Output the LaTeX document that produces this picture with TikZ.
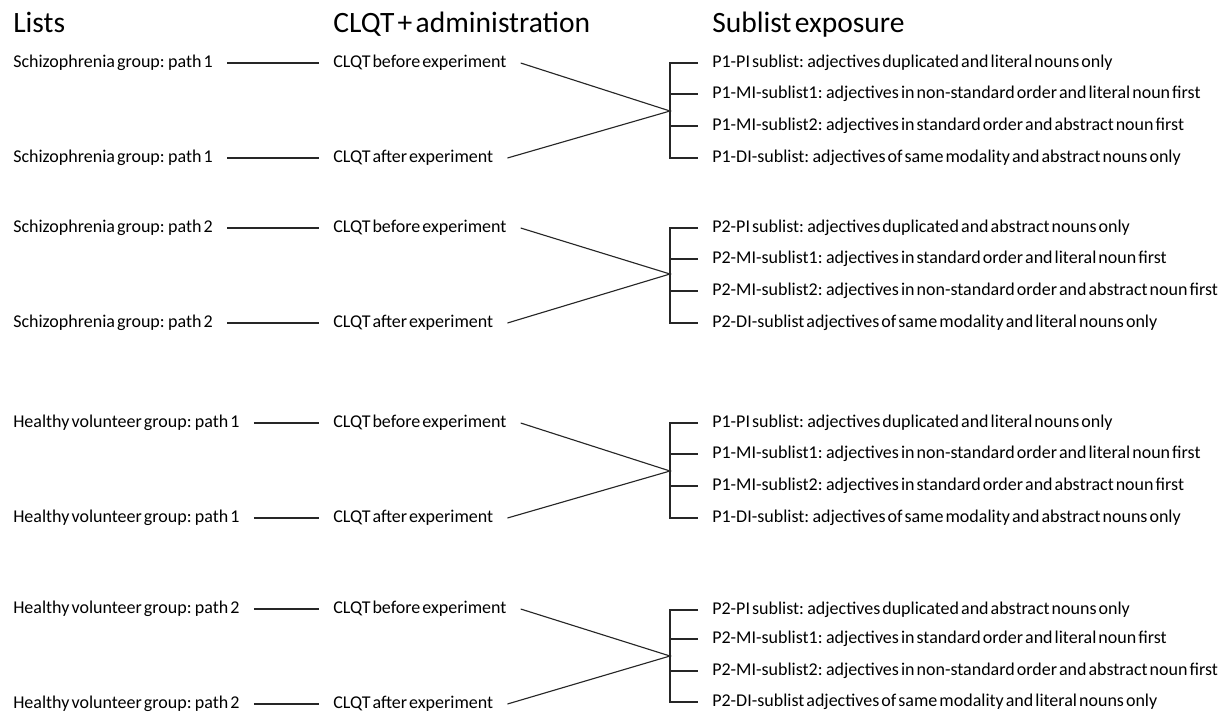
\documentclass[tikz,border=0pt]{standalone}
\usepackage{fontspec}
\setmainfont{Carlito}[WordSpace=0.5]
\usepackage{tikz}
\tikzset{
  head/.style={font=\fontsize{21}{25}\selectfont, anchor=base west, inner sep=0pt},
  item/.style={font=\fontsize{12.8}{15}\selectfont, anchor=west, inner xsep=0.35cm,
    inner ysep=0pt, text height=0.75em, text depth=0.05em},
  link/.style={line width=0.8pt, black!85},
}

\begin{document}
\begin{tikzpicture}[x=0.025cm, y=-0.025cm]
\useasboundingbox (0,0) rectangle (1226,712);
% --- Column headings ---
\node[head] (hlist) at (13,32) {Lists};
\node[head] (hclqt) at (333,32) {CLQT + administration};
\node[head] (hsub) at (712,32) {Sublist exposure};

% --- Schizophrenia group: path 1 ---
\begin{scope}[shift={(0,63)}]
  \node[item] (lst1b) at (-1,0) {Schizophrenia group: path 1};
  \node[item] (lst1a) at (-1,95) {Schizophrenia group: path 1};
  \node[item] (cq1b) at (319,0) {CLQT before experiment};
  \node[item] (cq1a) at (319,95) {CLQT after experiment};
  \node[item] (sub1a) at (698,0) {P1-PI sublist: adjectives duplicated and literal nouns only};
  \node[item] (sub1b) at (698,31) {P1-MI-sublist1: adjectives in non-standard order and literal noun first};
  \node[item] (sub1c) at (698,63) {P1-MI-sublist2: adjectives in standard order and abstract noun first};
  \node[item] (sub1d) at (698,95) {P1-DI-sublist: adjectives of same modality and abstract nouns only};
  \coordinate (jn1) at (670,48);
  % Links
  \draw[link] (lst1b.east) -- (cq1b.west);
  \draw[link] (lst1a.east) -- (cq1a.west);
  \draw[link] (cq1b.east) -- (jn1) -- (cq1a.east);
  % Bracket
  \draw[link] (sub1a.west) -- (jn1 |- sub1a.west) -- (jn1 |- sub1d.west) -- (sub1d.west);
  \draw[link] (jn1 |- sub1b.west) -- (sub1b.west);
  \draw[link] (jn1 |- sub1c.west) -- (sub1c.west);
\end{scope}

% --- Schizophrenia group: path 2 ---
\begin{scope}[shift={(0,228)}]
  \node[item] (lst2b) at (-1,0) {Schizophrenia group: path 2};
  \node[item] (lst2a) at (-1,95) {Schizophrenia group: path 2};
  \node[item] (cq2b) at (319,0) {CLQT before experiment};
  \node[item] (cq2a) at (319,95) {CLQT after experiment};
  \node[item] (sub2a) at (698,0) {P2-PI sublist: adjectives duplicated and abstract nouns only};
  \node[item] (sub2b) at (698,31) {P2-MI-sublist1: adjectives in standard order and literal noun first};
  \node[item] (sub2c) at (698,63) {P2-MI-sublist2: adjectives in non-standard order and abstract noun first};
  \node[item] (sub2d) at (698,95) {P2-DI-sublist adjectives of same modality and literal nouns only};
  \coordinate (jn2) at (670,46);
  % Links
  \draw[link] (lst2b.east) -- (cq2b.west);
  \draw[link] (lst2a.east) -- (cq2a.west);
  \draw[link] (cq2b.east) -- (jn2) -- (cq2a.east);
  % Bracket
  \draw[link] (sub2a.west) -- (jn2 |- sub2a.west) -- (jn2 |- sub2d.west) -- (sub2d.west);
  \draw[link] (jn2 |- sub2b.west) -- (sub2b.west);
  \draw[link] (jn2 |- sub2c.west) -- (sub2c.west);
\end{scope}

% --- Healthy volunteer group: path 1 ---
\begin{scope}[shift={(0,423)}]
  \node[item] (lst3b) at (-1,0) {Healthy volunteer group: path 1};
  \node[item] (lst3a) at (-1,95) {Healthy volunteer group: path 1};
  \node[item] (cq3b) at (319,0) {CLQT before experiment};
  \node[item] (cq3a) at (319,95) {CLQT after experiment};
  \node[item] (sub3a) at (698,0) {P1-PI sublist: adjectives duplicated and literal nouns only};
  \node[item] (sub3b) at (698,31) {P1-MI-sublist1: adjectives in non-standard order and literal noun first};
  \node[item] (sub3c) at (698,63) {P1-MI-sublist2: adjectives in standard order and abstract noun first};
  \node[item] (sub3d) at (698,95) {P1-DI-sublist: adjectives of same modality and abstract nouns only};
  \coordinate (jn3) at (670,48);
  % Links
  \draw[link] (lst3b.east) -- (cq3b.west);
  \draw[link] (lst3a.east) -- (cq3a.west);
  \draw[link] (cq3b.east) -- (jn3) -- (cq3a.east);
  % Bracket
  \draw[link] (sub3a.west) -- (jn3 |- sub3a.west) -- (jn3 |- sub3d.west) -- (sub3d.west);
  \draw[link] (jn3 |- sub3b.west) -- (sub3b.west);
  \draw[link] (jn3 |- sub3c.west) -- (sub3c.west);
\end{scope}

% --- Healthy volunteer group: path 2 ---
\begin{scope}[shift={(0,609)}]
  \node[item] (lst4b) at (-1,0) {Healthy volunteer group: path 2};
  \node[item] (lst4a) at (-1,95) {Healthy volunteer group: path 2};
  \node[item] (cq4b) at (319,0) {CLQT before experiment};
  \node[item] (cq4a) at (319,95) {CLQT after experiment};
  \node[item] (sub4a) at (698,1) {P2-PI sublist: adjectives duplicated and abstract nouns only};
  \node[item] (sub4b) at (698,30) {P2-MI-sublist1: adjectives in standard order and literal noun first};
  \node[item] (sub4c) at (698,62) {P2-MI-sublist2: adjectives in non-standard order and abstract noun first};
  \node[item] (sub4d) at (698,93) {P2-DI-sublist adjectives of same modality and literal nouns only};
  \coordinate (jn4) at (670,47);
  % Links
  \draw[link] (lst4b.east) -- (cq4b.west);
  \draw[link] (lst4a.east) -- (cq4a.west);
  \draw[link] (cq4b.east) -- (jn4) -- (cq4a.east);
  % Bracket
  \draw[link] (sub4a.west) -- (jn4 |- sub4a.west) -- (jn4 |- sub4d.west) -- (sub4d.west);
  \draw[link] (jn4 |- sub4b.west) -- (sub4b.west);
  \draw[link] (jn4 |- sub4c.west) -- (sub4c.west);
\end{scope}

\end{tikzpicture}
\end{document}
